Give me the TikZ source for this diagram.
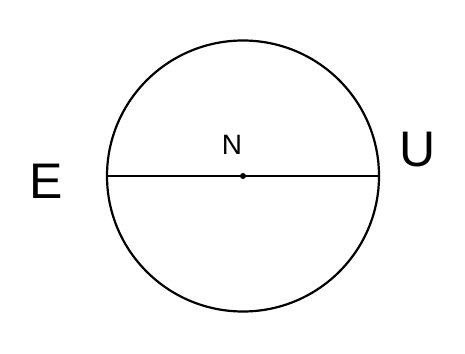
\documentclass[tikz,border=0pt]{standalone}
\usepackage{fontspec}
\setmainfont{Liberation Sans}
\begin{document}
\begin{tikzpicture}[x=1pt,y=-1pt,
  stroke/.style={line width=2.2pt,black},
  lbl/.style={inner sep=0pt,font=\fontsize{50}{50}\selectfont}]
\useasboundingbox (0,0) rectangle (465,353);
\coordinate (C) at (243,176);
\draw[stroke] (C) circle [x radius=136, y radius=135.5];
\coordinate (L) at (107,176);
\coordinate (R) at (379,176);
\draw[stroke] (L) -- (R);
\fill (C) circle [radius=3];
\node[lbl] (E) at (46,181) {E};
\node[lbl] (U) at (418,150) {U};
\node[lbl,font=\fontsize{28}{28}\selectfont] (N) at (232,145) {N};
\end{tikzpicture}
\end{document}
